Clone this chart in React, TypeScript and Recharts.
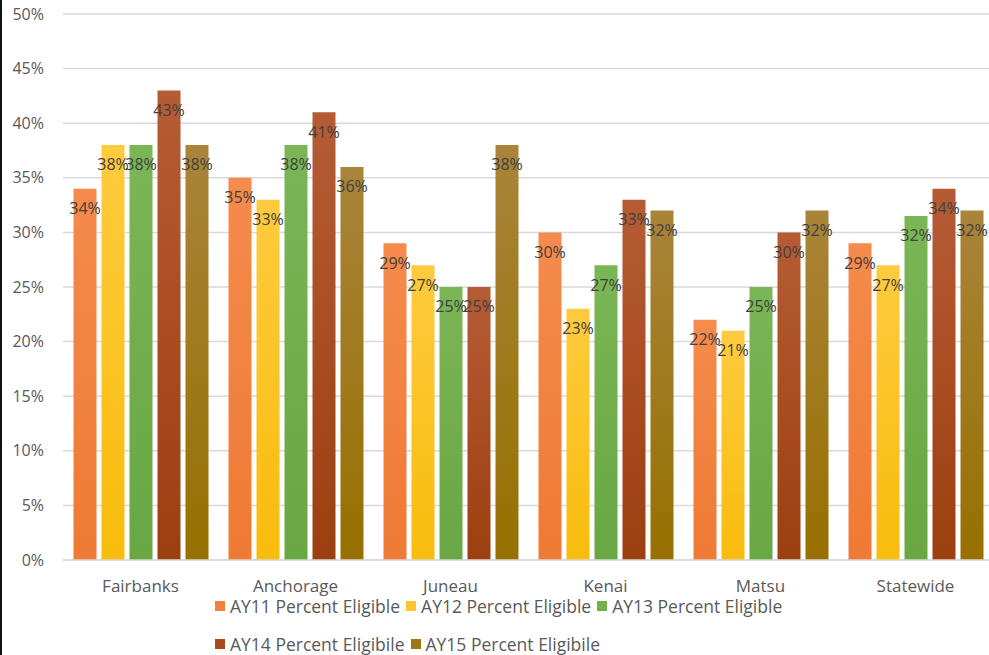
import React from 'react';
import { BarChart, Bar, XAxis, YAxis, CartesianGrid, Legend, LabelList } from 'recharts';

const regions = ['Fairbanks', 'Anchorage', 'Juneau', 'Kenai', 'Matsu', 'Statewide'];
const ay11 = [34, 35, 29, 30, 22, 29];
const ay12 = [38, 33, 27, 23, 21, 27];
const ay13 = [38, 38, 25, 27, 25, 31.5];
const ay14 = [43, 41, 25, 33, 30, 34];
const ay15 = [38, 36, 38, 32, 32, 32];
const yTicks = [0, 5, 10, 15, 20, 25, 30, 35, 40, 45, 50];

const seriesNames = [
  'AY11 Percent Eligible',
  'AY12 Percent Eligible',
  'AY13 Percent Eligible',
  'AY14 Percent Eligibile',
  'AY15 Percent Eligibile',
];

const colors = ['#F2813D', '#FFC52A', '#72B04A', '#A94A1E', '#9E7712'];
const gradients = [
  ['#F58B4C', '#EE7A34'],
  ['#FFCB3E', '#F8BC0C'],
  ['#7BB656', '#68A741'],
  ['#B65C35', '#9C3F10'],
  ['#A9843A', '#977000'],
];

const data = regions.map((r, i) => ({
  region: r,
  ay11: ay11[i],
  ay12: ay12[i],
  ay13: ay13[i],
  ay14: ay14[i],
  ay15: ay15[i],
}));

const keys = ['ay11', 'ay12', 'ay13', 'ay14', 'ay15'];

const FONT = '"Open Sans", "DejaVu Sans", sans-serif';

const LegendItem = ({ color, label }: { color: string; label: string }) => (
  <div style={{ display: 'flex', alignItems: 'center', marginRight: 6 }}>
    <span style={{ display: 'inline-block', width: 10, height: 10, background: color, marginRight: 5 }} />
    <span>{label}</span>
  </div>
);

const CustomLegend = () => (
  <div
    style={{
      height: 60,
      paddingLeft: 215,
      fontFamily: FONT,
      fontSize: 17.5,
      color: '#595959',
      lineHeight: '22px',
      boxSizing: 'border-box',
    }}
  >
    <div style={{ display: 'flex', height: 22 }}>
      {[0, 1, 2].map((i) => (
        <LegendItem key={i} color={colors[i]} label={seriesNames[i]} />
      ))}
    </div>
    <div style={{ display: 'flex', height: 22, marginTop: 16 }}>
      {[3, 4].map((i) => (
        <LegendItem key={i} color={colors[i]} label={seriesNames[i]} />
      ))}
    </div>
  </div>
);

export default function App() {
  return (
    <div
      style={{
        position: 'absolute',
        left: 0,
        top: 0,
        width: 989,
        height: 655,
        overflow: 'hidden',
        background: '#fff',
      }}
    >
      <BarChart
        width={1000}
        height={655}
        data={data}
        margin={{ top: 14, right: 7, left: 0, bottom: 0 }}
        barCategoryGap={10.5}
        barGap={5}
      >
        <defs>
          {gradients.map((g, i) => (
            <linearGradient key={i} id={`grad${i}`} x1="0" y1="0" x2="0" y2="1">
              <stop offset="0%" stopColor={g[0]} />
              <stop offset="100%" stopColor={g[1]} />
            </linearGradient>
          ))}
        </defs>
        <CartesianGrid vertical={false} stroke="#D9D9D9" strokeWidth={1.5} />
        <XAxis
          dataKey="region"
          height={35}
          tickLine={false}
          tickSize={0}
          tickMargin={20}
          axisLine={{ stroke: '#D9D9D9', strokeWidth: 1.5 }}
          tick={{ fill: '#595959', fontSize: 17, fontFamily: FONT }}
        />
        <YAxis
          width={63}
          domain={[0, 50]}
          ticks={yTicks}
          interval={0}
          tickFormatter={(v) => `${v}%`}
          axisLine={false}
          tickLine={false}
          tickSize={0}
          tickMargin={19}
          tick={{ fill: '#595959', fontSize: 16, fontFamily: FONT }}
        />
        <Legend verticalAlign="bottom" align="left" content={<CustomLegend />} />
        {keys.map((k, i) => (
          <Bar key={k} dataKey={k} name={seriesNames[i]} fill={`url(#grad${i})`} isAnimationActive={false}>
            <LabelList
              dataKey={k}
              position="insideTop"
              offset={14}
              formatter={(v: any) => `${Math.round(v)}%`}
              style={{ fill: '#404040', fontSize: 16, fontFamily: FONT }}
            />
          </Bar>
        ))}
      </BarChart>
      <div style={{ position: 'absolute', left: 0, top: 0, width: 2, height: 655, background: '#111' }} />
    </div>
  );
}
